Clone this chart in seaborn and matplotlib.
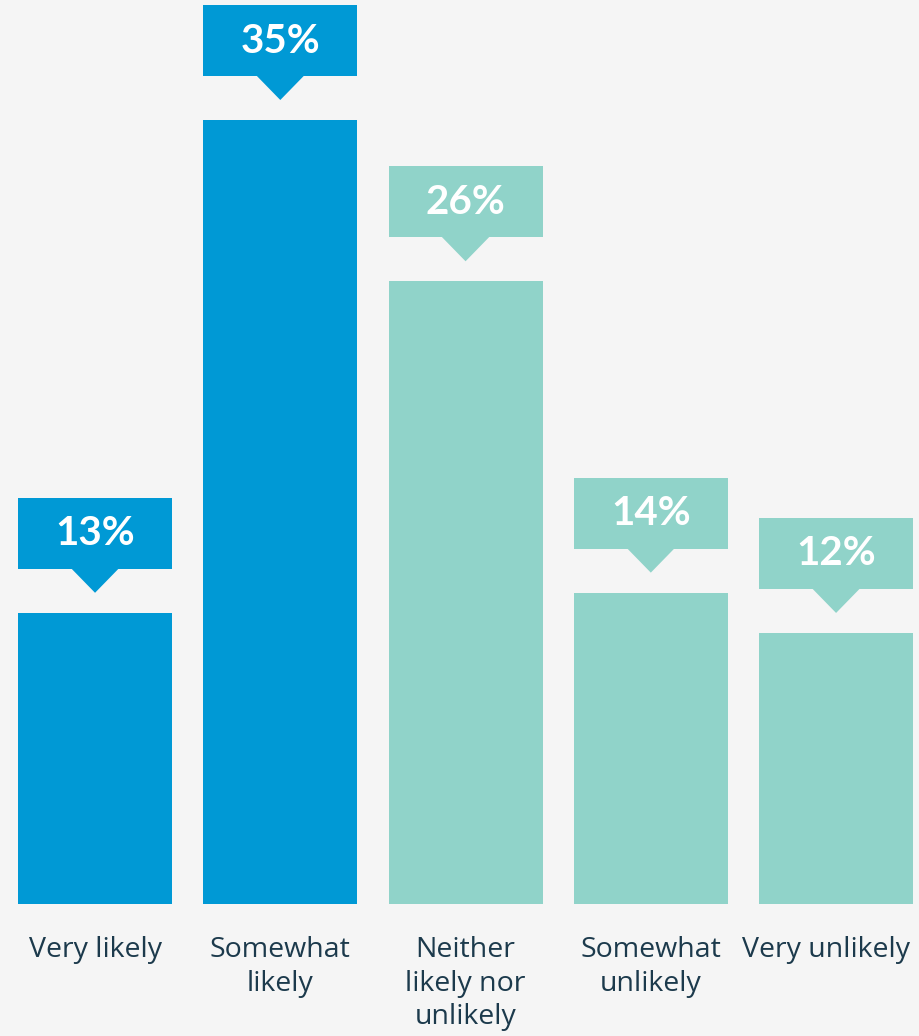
import matplotlib
matplotlib.use("Agg")
import matplotlib.pyplot as plt
from matplotlib.patches import Polygon
import matplotlib.transforms as mtransforms
import seaborn as sns
import pandas as pd

categories = ["Very likely", "Somewhat likely", "Neither likely nor unlikely",
              "Somewhat unlikely", "Very unlikely"]
tick_labels = ["Very likely", "Somewhat\nlikely", "Neither\nlikely nor\nunlikely",
               "Somewhat\nunlikely", "Very unlikely"]
values = [13.0, 35.0, 27.8, 13.9, 12.1]
value_labels = ["13%", "35%", "26%", "14%", "12%"]
colors = ["#0099d5", "#0099d5", "#90d3c9", "#90d3c9", "#90d3c9"]

BG = "#f5f5f5"
TEXT = "#1c3a4c"

sns.set_theme(style="white")
plt.rcParams["font.family"] = ["Lato", "DejaVu Sans"]

df = pd.DataFrame({"cat": categories, "val": values})

fig = plt.figure(figsize=(9.2, 10.36), dpi=100, facecolor=BG)
ax = fig.add_axes([0, 132 / 1036, 1, 904 / 1036])
ax.set_facecolor(BG)

sns.barplot(data=df, x="cat", y="val", hue="cat", palette=colors, order=categories,
            hue_order=categories, width=0.831, legend=False, ax=ax, saturation=1,
            linewidth=0, edgecolor="none")

ax.set_xlim(-0.513, 4.453)
ax.set_ylim(0, 904 / 22.4)
for s in ax.spines.values():
    s.set_visible(False)
ax.set_yticks([])
ax.set_xlabel("")
ax.set_ylabel("")
ax.set_xticks(range(len(categories)))
ax.set_xticklabels(tick_labels, fontsize=20.5, color=TEXT, linespacing=1.27,
                   family=["Open Sans", "DejaVu Sans"])
ax.tick_params(axis="x", length=0, pad=23)
# keep the last label inside the figure edge, as in the reference
last = ax.get_xticklabels()[-1]
last.set_transform(last.get_transform() +
                   mtransforms.ScaledTranslation(-10 / 100, 0, fig.dpi_scale_trans))

upx = 1 / 22.4  # data units per pixel
for p, lab, col in zip(ax.patches, value_labels, colors):
    x0 = p.get_x()
    w = p.get_width()
    cx = x0 + w / 2
    top = p.get_height()
    b0 = top + 44 * upx
    b1 = top + 115 * upx
    tip = top + 20 * upx
    hw = 24.5 / 185.25
    box = Polygon([(x0, b0), (x0 + w, b0), (x0 + w, b1), (x0, b1)], closed=True,
                  facecolor=col, edgecolor="none", clip_on=False)
    tri = Polygon([(cx - hw, b0 + 0.05), (cx + hw, b0 + 0.05), (cx, tip)], closed=True,
                  facecolor=col, edgecolor="none", clip_on=False)
    ax.add_patch(box)
    ax.add_patch(tri)
    ax.text(cx, (b0 + b1) / 2 - 0.5 * upx, lab, ha="center", va="center", color="white",
            fontsize=29, fontweight="bold")

fig.savefig("out.png", dpi=100, facecolor=BG)
